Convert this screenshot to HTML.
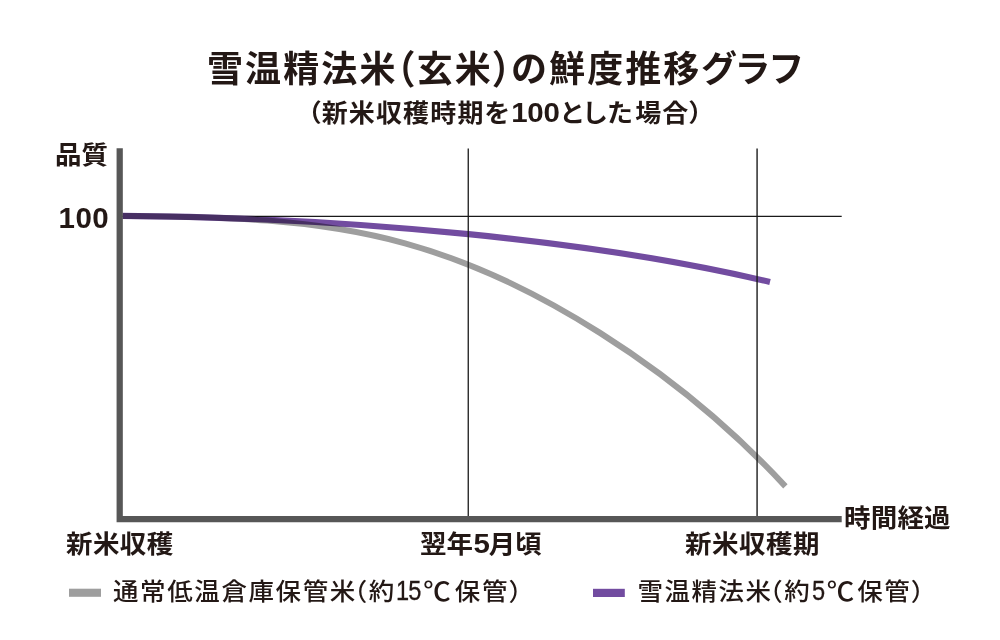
<!DOCTYPE html>
<html lang="ja">
<head>
<meta charset="utf-8">
<title>雪温精法米（玄米）の鮮度推移グラフ</title>
<style>
html,body{margin:0;padding:0;background:#fff;}
body{width:1000px;height:640px;position:relative;overflow:hidden;
  font-family:"Liberation Sans","Noto Sans CJK JP",sans-serif;color:#231815;}
.t{position:absolute;white-space:nowrap;line-height:1;font-feature-settings:"palt" 0,"halt" 1;font-kerning:none;}
.b{font-weight:700;}
.p{display:inline-block;transform:translateY(1px) scaleY(1.09);}
.sq{transform:scaleY(.95);transform-origin:50% 55%;}
.m{font-weight:500;}
.r{font-weight:400;}
svg{position:absolute;left:0;top:0;}
#title{left:207px;top:52.2px;font-size:36px;letter-spacing:2.1px;}
#sub{left:307.5px;top:99.5px;font-size:26px;letter-spacing:1.15px;font-feature-settings:"palt" 1;}
.d,.n,.c{line-height:0;}
.c{font-size:27.5px;position:relative;top:0.8px;}
.d{font-weight:700;}
#sub .d{font-size:29.5px;letter-spacing:-0.2px;margin-left:0.5px;margin-right:1px;}
#yl{left:55px;top:141.5px;font-size:26.5px;}
#y100{left:58.5px;top:203px;font-size:29.5px;letter-spacing:0.5px;}
#x1{left:66px;top:531px;font-size:26.5px;letter-spacing:0.4px;}
#x2{left:420px;top:531px;font-size:26.5px;}
#x2 .d{font-size:29.5px;margin:0 -1.2px 0 0.4px;position:relative;top:0.4px;}
#x3{left:685px;top:531px;font-size:26.5px;letter-spacing:0.5px;}
#xl{left:844px;top:504.5px;font-size:26.5px;letter-spacing:0.2px;}
#l1{left:113px;top:579px;font-size:25.5px;letter-spacing:1.6px;}
.n{font-size:29.5px;letter-spacing:-1px;display:inline-block;transform:scaleX(.8);transform-origin:0 50%;-webkit-text-stroke:0.35px #231815;}
#l2{left:637.5px;top:579px;font-size:25.5px;letter-spacing:1.5px;}
</style>
</head>
<body>
<svg width="1000" height="640" viewBox="0 0 1000 640" xmlns="http://www.w3.org/2000/svg">
  <g style="isolation:isolate">
    <line x1="122" y1="216.42" x2="841.7" y2="216.42" stroke="#1a1a1a" stroke-width="1.15"/>
    <path id="gray" d="M122.5,216.04 C216.7,217.02 310.8,217.33 405.0,243.36 C440.0,253.04 475.0,266.27 510.0,282.90 C540.0,297.15 570.0,313.90 600.0,332.88 C620.0,345.53 640.0,359.17 660.0,374.01 C701.8,405.03 743.6,441.31 785.4,486.35" fill="none" stroke="#9e9e9e" stroke-width="6"/>
    <path id="purple" d="M122.5,215.90 C237.8,216.48 353.2,222.73 468.5,234.17 C569.0,244.15 669.5,258.07 770.0,282.03" fill="none" stroke="#724ca0" stroke-width="6.2" style="mix-blend-mode:multiply"/>
  </g>
  <line x1="468.25" y1="148.4" x2="468.25" y2="519" stroke="#1a1a1a" stroke-width="1.3"/>
  <line x1="757.08" y1="148.4" x2="757.08" y2="519" stroke="#1a1a1a" stroke-width="1.38"/>
  <path d="M119.7,148.3 V519.1 H841.7" fill="none" stroke="#575757" stroke-width="6.25"/>
  <rect x="69" y="588.7" width="32" height="8.1" fill="#9e9e9e"/>
  <rect x="593" y="588.8" width="31.8" height="8.2" fill="#724ca0"/>
</svg>
<div id="title" class="t b">雪温精法米<span class="p">（</span><span style="margin-left:-1px">玄米</span><span class="p" style="margin-left:-1px">）</span><span style="margin-left:-1px">の鮮度推移</span><span style="margin-left:-0.5px">グ</span><span style="margin-left:-4.5px">ラ</span><span style="margin-left:-4.5px">フ</span></div>
<div id="sub" class="t b sq">（新米収穫時期を<span class="d">100</span>とした<span style="margin-left:1.5px">場合）</span></div>
<div id="yl" class="t b sq">品質</div>
<div id="y100" class="t b">100</div>
<div id="x1" class="t b sq">新米収穫</div>
<div id="x2" class="t b sq">翌年<span class="d">5</span>月頃</div>
<div id="x3" class="t b sq">新米収穫期</div>
<div id="xl" class="t b sq">時間経過</div>
<div id="l1" class="t m sq">通常低温倉庫保管米<span style="margin-left:-2.5px">（約</span><span class="n" style="margin-left:0.5px;margin-right:-6px">15</span><span class="c" style="margin-left:2px">℃</span><span style="margin-left:2.5px">保管</span><span style="margin-left:-0.5px">）</span></div>
<div id="l2" class="t m sq">雪温精法米<span style="margin-left:-2.5px">（約</span><span class="n" style="margin-left:0.5px;margin-right:-2px">5</span><span class="c" style="margin-left:1.5px">℃</span><span style="margin-left:1.5px">保管</span><span style="margin-left:-0.5px">）</span></div>
</body>
</html>
